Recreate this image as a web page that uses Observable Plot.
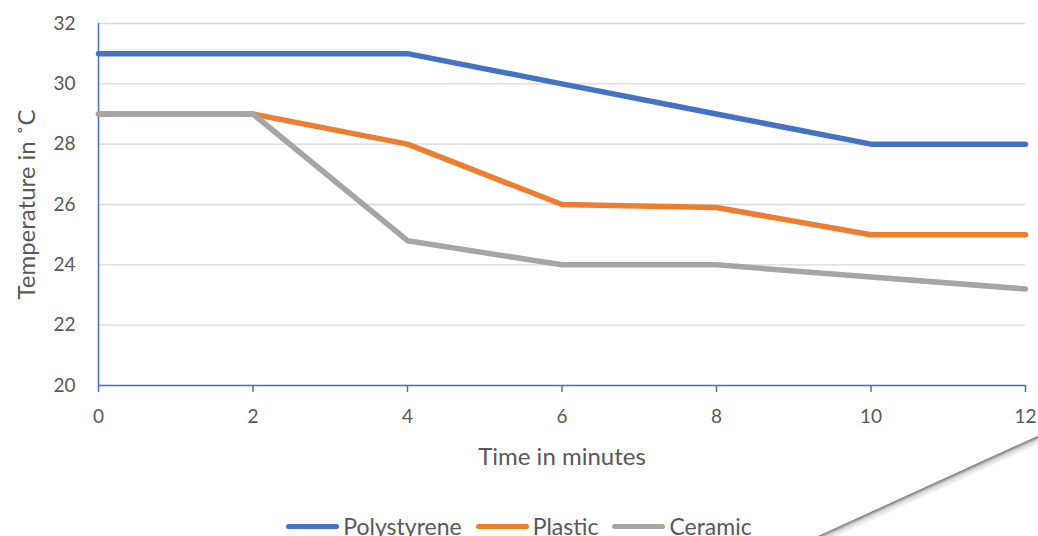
<!DOCTYPE html>
<html><head><meta charset="utf-8">
<script src="https://cdn.jsdelivr.net/npm/d3@7"></script>
<script src="https://cdn.jsdelivr.net/npm/@observablehq/plot@0.6"></script>
<style>
html,body{margin:0;padding:0;background:#fff;overflow:hidden;width:1038px;height:536px}
#wrap{position:relative;width:1038px;height:536px;font-family:Lato,"Open Sans",sans-serif;color:#595959;overflow:hidden}
#legend{position:absolute;left:0;top:512px;width:1038px;display:flex;justify-content:center;align-items:center;font-size:23px;color:#595959;line-height:28px}
.item{display:flex;align-items:center;margin:0 7px}
.sw{width:53px;height:5px;border-radius:3px;margin-right:4px}
#shadow{position:absolute;left:818px;top:536px;width:270px;height:9px;transform-origin:0 0;transform:rotate(-24.5deg);background:linear-gradient(to bottom,rgba(110,110,110,0.95),rgba(180,180,180,0.5) 40%,rgba(255,255,255,0))}
</style></head><body><div id="wrap"></div>
<script>
const times = [0, 2, 4, 6, 8, 10, 12];
const seriesNames = ["Polystyrene", "Plastic", "Ceramic"];
const polystyrene = [31, 31, 31, 30, 29, 28, 28];
const plastic = [29, 29, 28, 26, 25.9, 25, 25];
const ceramic = [29, 29, 24.8, 24, 24, 23.6, 23.2];
const yTicks = [20, 22, 24, 26, 28, 30, 32];
const xTicks = [0, 2, 4, 6, 8, 10, 12];
const colors = ["#4472C4", "#ED7D31", "#A5A5A5"];

const seriesValues = [polystyrene, plastic, ceramic];
const data = [];
seriesNames.forEach((s, i) => times.forEach((t, j) => data.push({s, t, v: seriesValues[i][j]})));

const chart = Plot.plot({
  width: 1038, height: 510,
  marginLeft: 98, marginRight: 13, marginTop: 23, marginBottom: 125,
  style: {fontFamily: "Lato, 'Open Sans', sans-serif", fontSize: "19px", color: "#595959", background: "transparent"},
  x: {domain: [0, 12]},
  y: {domain: [20, 32]},
  color: {domain: seriesNames, range: colors},
  marks: [
    Plot.gridY(yTicks, {stroke: "#d9d9d9", strokeOpacity: 1, strokeWidth: 1.3}),
    Plot.ruleX([0], {stroke: "#4472C4", strokeWidth: 1.5}),
    Plot.ruleY([20], {stroke: "#4472C4", strokeWidth: 1.5}),
    Plot.axisY({ticks: yTicks, tickSize: 0, tickPadding: 23, label: null}),
    Plot.axisY({ticks: [], label: "Temperature in ˚C", labelAnchor: "center", labelOffset: 81, labelArrow: "none", fontSize: 24}),
    Plot.axisX({ticks: xTicks, tickSize: 7, tickPadding: 17, stroke: "#4472C4", strokeOpacity: 1, strokeWidth: 1.5, label: null}),
    Plot.axisX({ticks: [], label: "Time in minutes", labelAnchor: "center", labelOffset: 79, labelArrow: "none", fontSize: 24}),
    Plot.line(data, {x: "t", y: "v", z: "s", stroke: "s", strokeWidth: 5.5, strokeLinecap: "round", strokeLinejoin: "round"})
  ]
});
const wrap = document.getElementById("wrap");
wrap.appendChild(chart);

const legend = document.createElement("div");
legend.id = "legend";
seriesNames.forEach((s, i) => {
  const it = document.createElement("div");
  it.className = "item";
  const sw = document.createElement("span");
  sw.className = "sw";
  sw.style.background = colors[i];
  const tx = document.createElement("span");
  tx.textContent = s;
  it.appendChild(sw); it.appendChild(tx);
  legend.appendChild(it);
});
wrap.appendChild(legend);
const sh = document.createElement("div");
sh.id = "shadow";
wrap.appendChild(sh);
</script>
</body></html>
